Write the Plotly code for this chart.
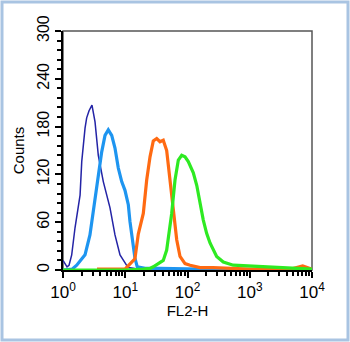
import plotly.graph_objects as go

# ---- data ----
navy_x = [1.0, 1.077, 1.16, 1.25, 1.38, 1.56, 1.88, 2.0, 2.12, 2.26, 2.40, 2.62, 2.92,
          3.27, 3.69, 4.44, 5.69, 6.84, 8.24, 9.9, 11.1, 14.3, 25, 100, 10000]
navy_y = [12, 8, 4, 6, 19, 53, 94, 136, 157, 178, 191, 200, 207,
          186, 144, 111, 78, 44, 19, 9, 3, 2, 1, 0, 0]

lblue_x = [1.0, 1.4, 1.66, 2.26, 2.71, 3.07, 3.27, 3.69, 3.93, 4.18, 4.73, 5.34, 6.06,
           6.84, 7.73, 8.77, 9.9, 11.2, 11.9, 13.2, 14.3, 15.6, 20.8, 36, 158, 10000]
lblue_y = [0, 1, 6, 19, 44, 73, 86, 115, 132, 148, 169, 176, 169,
           153, 128, 111, 100, 82, 61, 36, 15, 4, 2, 2, 1, 0]

orange_x = [3.52, 9.9, 12.7, 14.3, 16.2, 17.3, 19.5, 22.1, 25.0, 28.2, 32.0, 36.2, 40.8,
            46.3, 52.3, 59.1, 67.1, 75.8, 91.2, 110, 159, 257, 1010, 4430, 7090, 10000]
orange_y = [1, 1, 10, 14, 45, 55, 71, 113, 142, 162, 165, 161, 163,
            150, 113, 71, 38, 17, 8, 6, 3, 3, 1, 1, 5, 1]

green_x = [1.0, 10, 19.5, 25, 28.2, 32.0, 36.2, 40.8, 46.3, 49.2, 55.7, 63.0, 71.2, 80.7,
           91.2, 103, 117, 124, 141, 159, 179, 203, 230, 294, 376, 544, 893, 2390, 7250, 10000]
green_y = [0, 0, 1, 2, 4, 7, 9, 12, 25, 38, 71, 113, 138, 144,
           142, 136, 127, 122, 106, 82, 63, 46, 34, 17, 10, 6, 5, 3, 1, 1]

x_tick_vals = [1, 10, 100, 1000, 10000]
x_tick_text = ["10<sup>0</sup>", "10<sup>1</sup>", "10<sup>2</sup>", "10<sup>3</sup>", "10<sup>4</sup>"]
y_tick_vals = [0, 60, 120, 180, 240, 300]

x_minor = [m * 10 ** d for d in range(4) for m in range(2, 10)]

series = [
    (navy_x, navy_y, "#2424A6", 1.5),
    (lblue_x, lblue_y, "#1E95F0", 3.2),
    (orange_x, orange_y, "#FF6A12", 3.2),
    (green_x, green_y, "#2EEA22", 3.2),
]

fig = go.Figure()
for xs, ys, col, w in series:
    fig.add_trace(go.Scatter(x=xs, y=ys, mode="lines",
                             line=dict(color=col, width=w), hoverinfo="skip",
                             showlegend=False))

font = "Liberation Sans, Arial, sans-serif"

fig.update_layout(
    width=350, height=342,
    margin=dict(l=63, r=38, t=31, b=72),
    paper_bgcolor="white", plot_bgcolor="white",
    showlegend=False,
    font=dict(family=font, color="black", size=15),
    xaxis=dict(
        type="log", range=[0, 4], showgrid=False, zeroline=False,
        showline=True, linecolor="black", linewidth=2,
        ticks="outside", ticklen=6, tickwidth=1.5, tickcolor="black",
        tickmode="array", tickvals=x_tick_vals, ticktext=x_tick_text,
        tickfont=dict(size=17, family=font),
        minor=dict(tickmode="array", tickvals=x_minor, ticks="outside",
                   ticklen=4, tickwidth=1.5, tickcolor="black"),
        title=dict(text="FL2-H", font=dict(size=15, family=font), standoff=0),
    ),
    yaxis=dict(
        range=[0, 300], showgrid=False, zeroline=False,
        showline=True, linecolor="black", linewidth=2,
        ticks="outside", ticklen=6, tickwidth=1.5, tickcolor="black",
        tickmode="array", tickvals=y_tick_vals, tickangle=-90,
        tickfont=dict(size=16, family=font),
        minor=dict(dtick=12, tick0=0, ticks="outside", ticklen=4,
                   tickwidth=1.5, tickcolor="black"),
        title=dict(text="Counts", font=dict(size=15, family=font), standoff=6),
    ),
    shapes=[
        dict(type="rect", xref="paper", yref="paper", x0=0, x1=1, y0=0, y1=1,
             line=dict(color="#555555", width=1.5), layer="below"),
        dict(type="rect", xref="paper", yref="paper",
             x0=(2 - 63) / 249, x1=(348 - 63) / 249,
             y0=(270 - 340) / 239, y1=(270 - 2) / 239,
             line=dict(color="#A9C4E2", width=3), layer="below"),
    ],
)

fig.write_html("out.html", config={"displayModeBar": False},
               post_script="document.body.style.margin='0px';document.body.style.overflow='hidden';")
